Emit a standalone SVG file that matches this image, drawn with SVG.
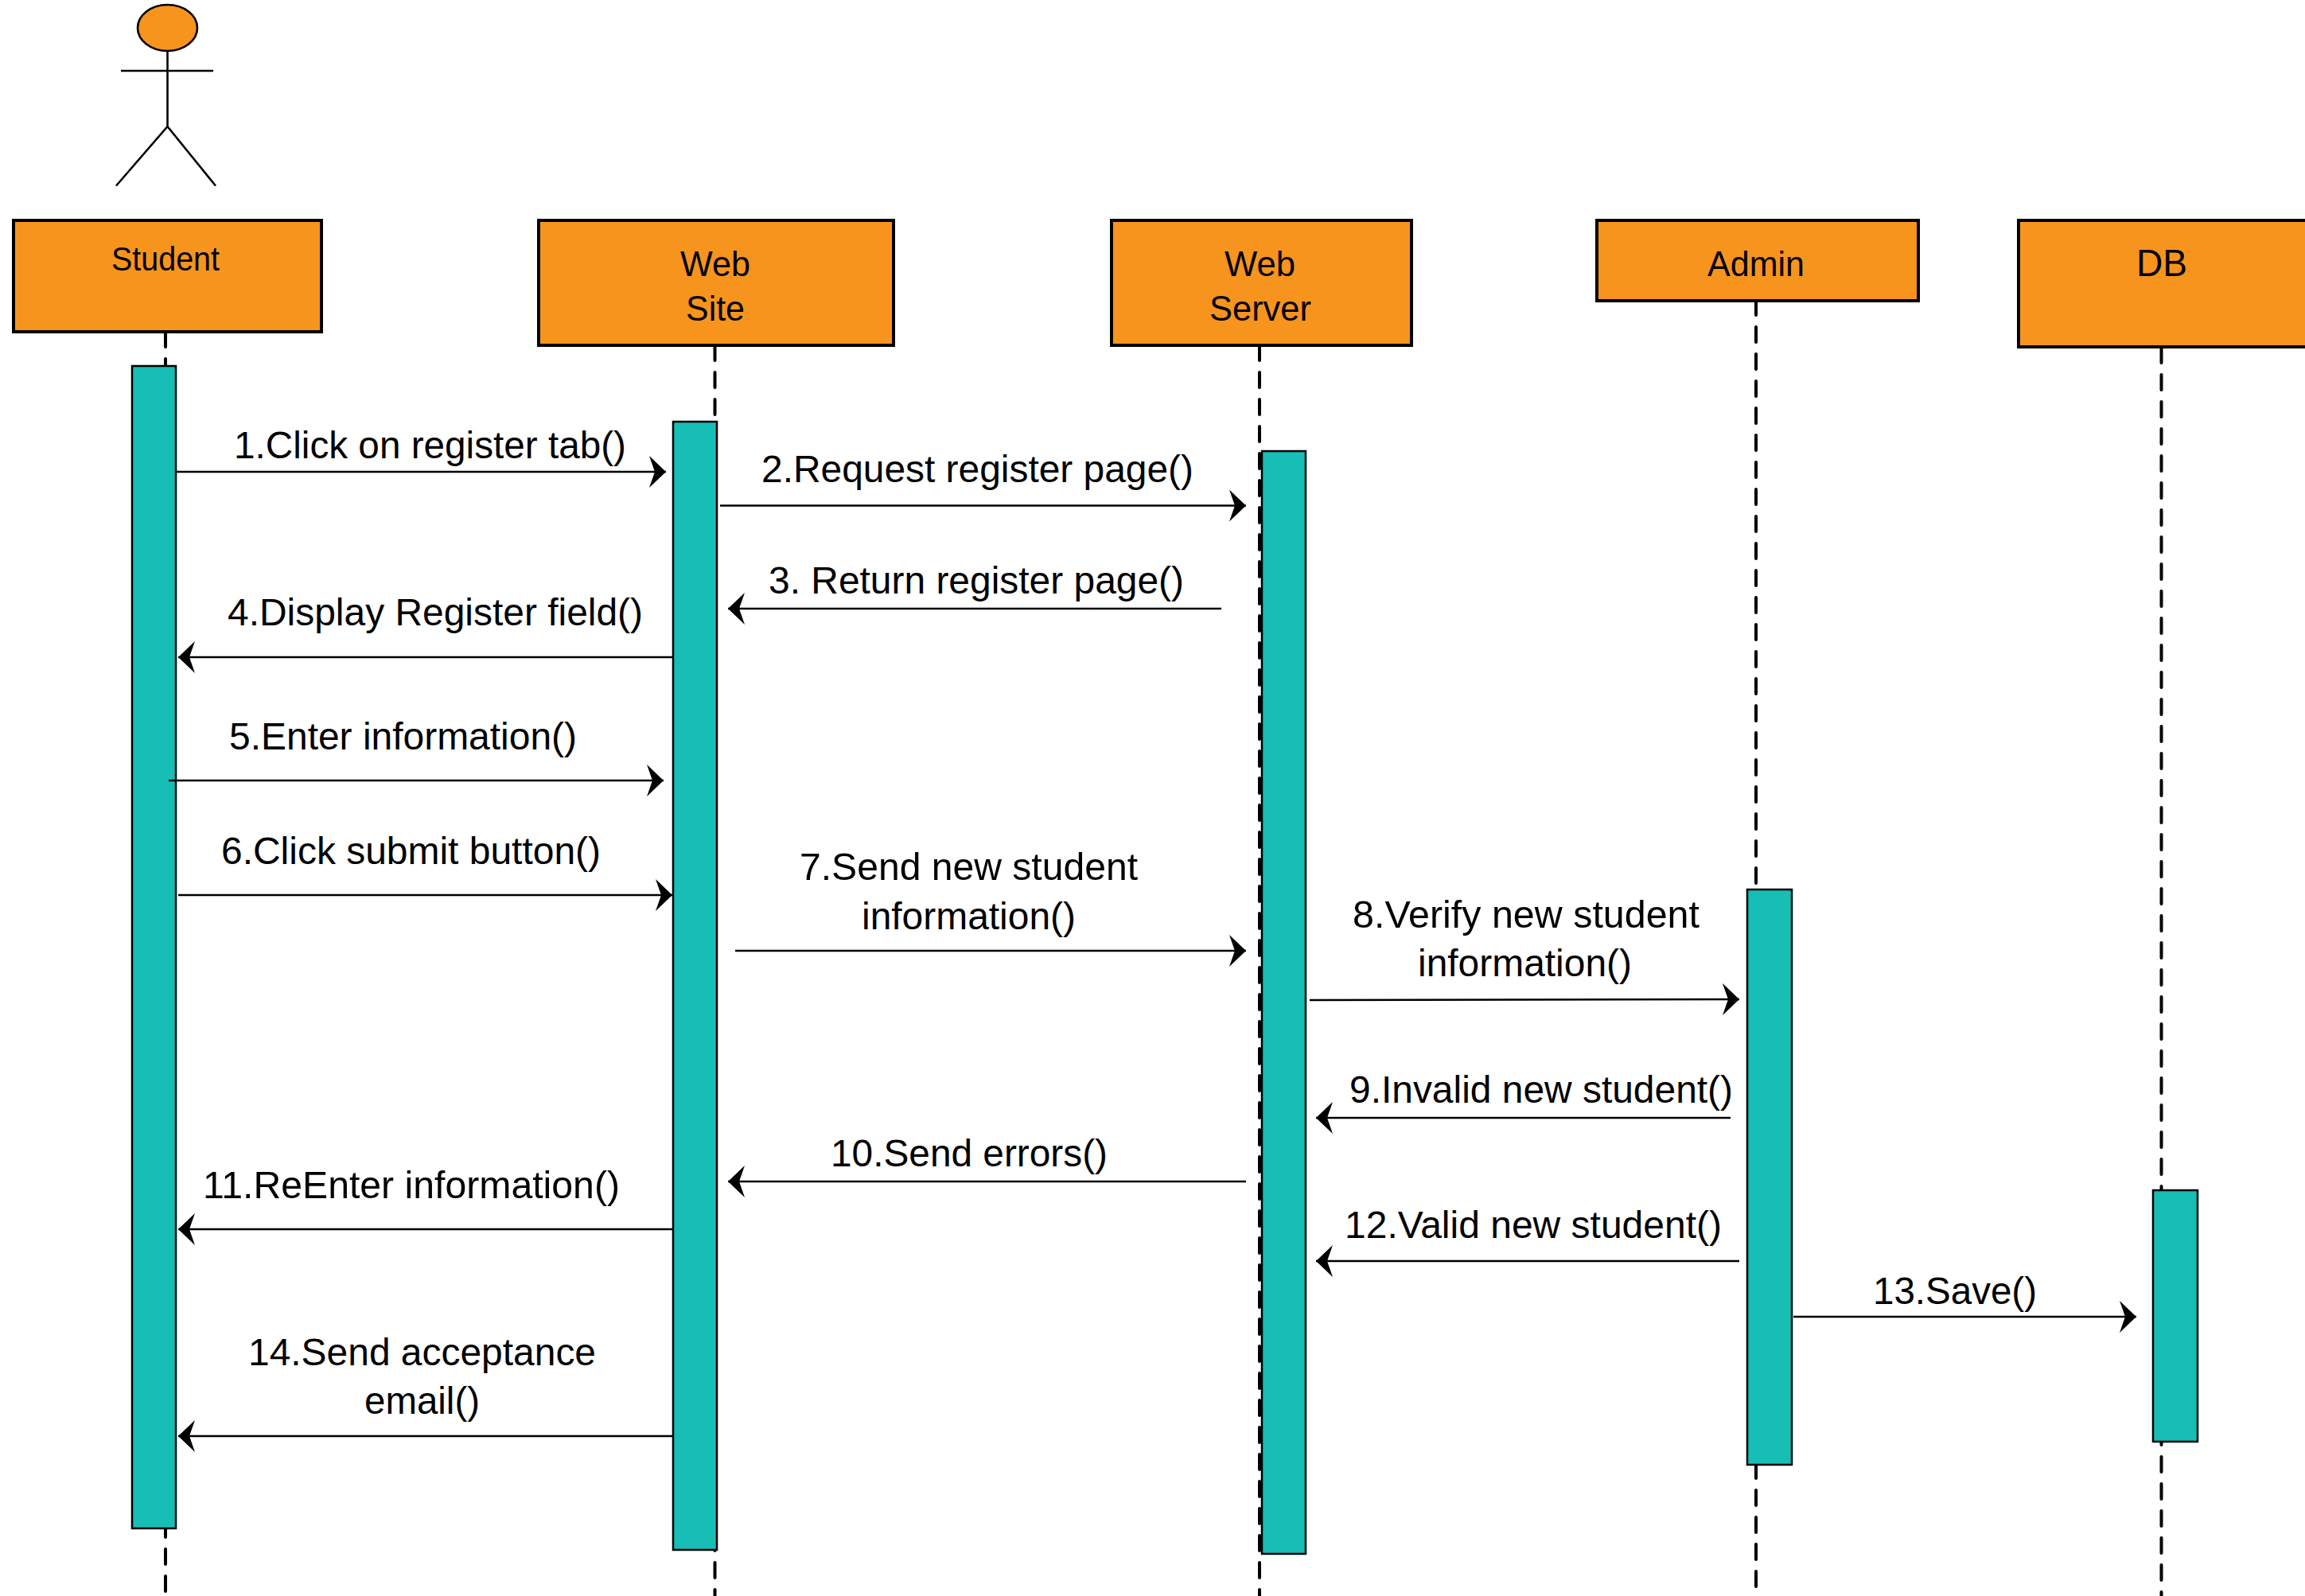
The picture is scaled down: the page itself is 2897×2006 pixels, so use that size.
<svg xmlns="http://www.w3.org/2000/svg" width="2897" height="2006" viewBox="0 0 2897 2006">
<style>
text{font-family:"Liberation Sans",Arial,sans-serif;fill:#000}
.m{font-size:48px}
.n{font-size:45px}
.box{fill:#F7941E;stroke:#000;stroke-width:4}
.bar{fill:#17BEB5;stroke:#000;stroke-width:2.500}
.life{fill:none;stroke:#000;stroke-width:4;stroke-dasharray:19 15;stroke-linecap:round}
.msg{fill:none;stroke:#000;stroke-width:2.600;marker-end:url(#arrow)}
.act{fill:none;stroke:#000;stroke-width:2.600}
</style>
<defs>
<marker id="arrow" markerUnits="userSpaceOnUse" markerWidth="24" markerHeight="44" refX="21" refY="20" orient="auto">
<path d="M0 0L21 20L0 40L7 20Z" fill="#000"/>
</marker>
</defs>
<rect width="2897" height="2006" fill="#fff"/>
<g id="lifelines">
<path class="life" d="M208 417V2006"/>
<path class="life" d="M898.500 434V2006"/>
<path class="life" d="M1583 434V2006"/>
<path class="life" d="M2207 377V2006"/>
<path class="life" d="M2716.500 437V2006"/>
</g>
<g id="actor">
<ellipse cx="210.500" cy="35" rx="37.500" ry="29" fill="#F7941E" stroke="#000" stroke-width="2.600"/>
<path class="act" d="M210.500 64V159M152 89H268M146 233.500L210.500 159L271 233.500"/>
</g>
<g id="student"><rect class="box" x="17" y="277" width="387" height="140"/><text class="n" font-size="42" style="font-size:42px" x="140" y="340" textLength="136" lengthAdjust="spacingAndGlyphs">Student</text></g>
<g id="website"><rect class="box" x="677" y="277" width="446" height="157"/><text class="n" x="855" y="347" textLength="88" lengthAdjust="spacingAndGlyphs">Web</text><text class="n" x="862" y="403" textLength="74" lengthAdjust="spacingAndGlyphs">Site</text></g>
<g id="webserver"><rect class="box" x="1397" y="277" width="377" height="157"/><text class="n" x="1539" y="347" textLength="89" lengthAdjust="spacingAndGlyphs">Web</text><text class="n" x="1520" y="403" textLength="128" lengthAdjust="spacingAndGlyphs">Server</text></g>
<g id="admin"><rect class="box" x="2007" y="277" width="404" height="101"/><text class="n" x="2146" y="347" textLength="122" lengthAdjust="spacingAndGlyphs">Admin</text></g>
<g id="db"><rect class="box" x="2537" y="277" width="370" height="159"/><text class="n" style="font-size:48px" x="2685" y="347" textLength="64" lengthAdjust="spacingAndGlyphs">DB</text></g>
<g id="activations">
<rect class="bar" x="166" y="460" width="55" height="1461"/>
<rect class="bar" x="846" y="530" width="55" height="1418"/>
<rect class="bar" x="1586" y="567" width="55" height="1386"/>
<rect class="bar" x="2196" y="1118" width="56" height="723"/>
<rect class="bar" x="2706" y="1496" width="56" height="316"/>
</g>
<g id="connectors">
<path class="msg" d="M221 593H837"/>
<path class="msg" d="M905 635.500H1566"/>
<path class="msg" d="M1535 765H915"/>
<path class="msg" d="M846 826H224"/>
<path class="msg" d="M212 981H834"/>
<path class="msg" d="M224 1125H845"/>
<path class="msg" d="M924 1195H1566"/>
<path class="msg" d="M1646 1257L2186 1256"/>
<path class="msg" d="M2175 1405H1654"/>
<path class="msg" d="M1566 1485H915"/>
<path class="msg" d="M846 1545H224"/>
<path class="msg" d="M2186 1585H1654"/>
<path class="msg" d="M2254 1655H2685"/>
<path class="msg" d="M846 1805H224"/>
</g>
<g id="labels">
<text class="m" x="294" y="576" textLength="493" lengthAdjust="spacingAndGlyphs">1.Click on register tab()</text>
<text class="m" x="957" y="606" textLength="543" lengthAdjust="spacingAndGlyphs">2.Request register page()</text>
<text class="m" x="966" y="746" textLength="522" lengthAdjust="spacingAndGlyphs">3. Return register page()</text>
<text class="m" x="286" y="786" textLength="522" lengthAdjust="spacingAndGlyphs">4.Display Register field()</text>
<text class="m" x="288" y="942" textLength="437" lengthAdjust="spacingAndGlyphs">5.Enter information()</text>
<text class="m" x="278" y="1086" textLength="477" lengthAdjust="spacingAndGlyphs">6.Click submit button()</text>
<text class="m" x="1005" y="1106" textLength="425" lengthAdjust="spacingAndGlyphs">7.Send new student</text>
<text class="m" x="1083" y="1168" textLength="269" lengthAdjust="spacingAndGlyphs">information()</text>
<text class="m" x="1700" y="1166" textLength="436" lengthAdjust="spacingAndGlyphs">8.Verify new student</text>
<text class="m" x="1782" y="1227" textLength="269" lengthAdjust="spacingAndGlyphs">information()</text>
<text class="m" x="1696" y="1386" textLength="482" lengthAdjust="spacingAndGlyphs">9.Invalid new student()</text>
<text class="m" x="1044" y="1466" textLength="348" lengthAdjust="spacingAndGlyphs">10.Send errors()</text>
<text class="m" x="255" y="1506" textLength="524" lengthAdjust="spacingAndGlyphs">11.ReEnter information()</text>
<text class="m" x="1690" y="1556" textLength="474" lengthAdjust="spacingAndGlyphs">12.Valid new student()</text>
<text class="m" x="2354" y="1639" textLength="206" lengthAdjust="spacingAndGlyphs">13.Save()</text>
<text class="m" x="312" y="1716" textLength="437" lengthAdjust="spacingAndGlyphs">14.Send acceptance</text>
<text class="m" x="458" y="1777" textLength="145" lengthAdjust="spacingAndGlyphs">email()</text>
</g>
</svg>
